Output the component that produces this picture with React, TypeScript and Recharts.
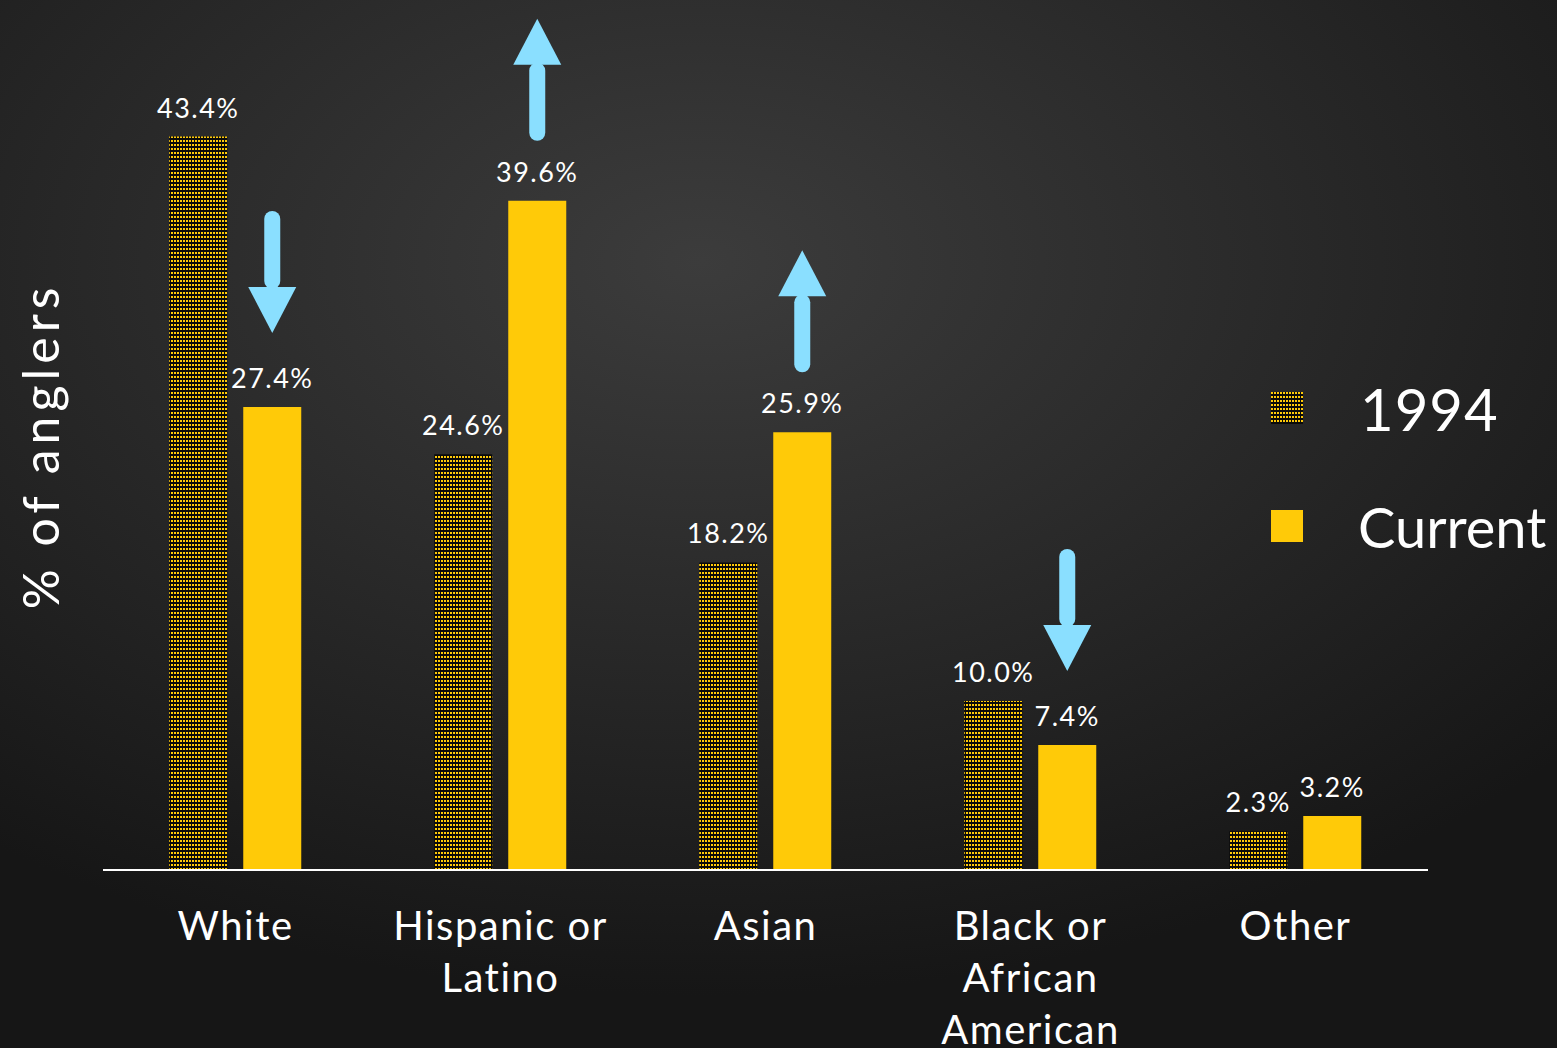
import React from 'react';
import { BarChart, Bar, XAxis, YAxis, LabelList } from 'recharts';

const categories = ['White', 'Hispanic or Latino', 'Asian', 'Black or African American', 'Other'];
const tickLines = [['White'], ['Hispanic or', 'Latino'], ['Asian'], ['Black or', 'African', 'American'], ['Other']];
const values1994 = [43.4, 24.6, 18.2, 10.0, 2.3];
const valuesCurrent = [27.4, 39.6, 25.9, 7.4, 3.2];
const trend = ['down', 'up', 'up', 'down', null];
const seriesNames = ['1994', 'Current'];

const YELLOW = '#FFCA08';
const BLUE = '#8ADFFF';
const FONT = 'Lato, "Open Sans", sans-serif';

const data = categories.map((c, i) => ({
  name: c,
  y1994: values1994[i],
  current: valuesCurrent[i],
}));

const labelStyle = { fontVariantLigatures: 'none' as const, letterSpacing: 1.5 };

const ValueLabel = (props: any) => {
  const { x, y, width, value } = props;
  return (
    <text x={x + width / 2} y={y - 19} fill="#fff" fontSize={27} fontFamily={FONT} textAnchor="middle" style={labelStyle}>
      {Number(value).toFixed(1)}%
    </text>
  );
};

// label on the current bars: value plus the trend arrow
const CurrentLabel = (props: any) => {
  const { x, y, width, value, index } = props;
  const cx = x + width / 2;
  const dir = trend[index];
  const len = 122;
  const head = 46;
  let arrow = null;
  if (dir === 'up') {
    const bottom = y - 60;
    const tip = bottom - len;
    arrow = (
      <g fill={BLUE}>
        <rect x={cx - 8} y={tip + head - 2} width={16} height={len - head + 2} rx={8} />
        <polygon points={`${cx},${tip} ${cx - 24},${tip + head} ${cx + 24},${tip + head}`} />
      </g>
    );
  } else if (dir === 'down') {
    const tip = y - 74;
    const top = tip - len;
    arrow = (
      <g fill={BLUE}>
        <rect x={cx - 8} y={top} width={16} height={len - head + 2} rx={8} />
        <polygon points={`${cx},${tip} ${cx - 24},${tip - head} ${cx + 24},${tip - head}`} />
      </g>
    );
  }
  return (
    <g>
      {arrow}
      <text x={cx} y={y - 19} fill="#fff" fontSize={27} fontFamily={FONT} textAnchor="middle" style={labelStyle}>
        {Number(value).toFixed(1)}%
      </text>
    </g>
  );
};

const CategoryTick = (props: any) => {
  const { x, y, payload } = props;
  const lines = tickLines[payload.index] || [payload.value];
  return (
    <text x={x} y={y} fill="#fff" fontSize={40} fontFamily={FONT} textAnchor="middle"
      style={{ fontVariantLigatures: 'none', letterSpacing: 1.5 }}>
      {lines.map((l: string, i: number) => (
        <tspan key={i} x={x} dy={i === 0 ? 62 : 52}>{l}</tspan>
      ))}
    </text>
  );
};

export default function App() {
  return (
    <div
      style={{
        position: 'absolute',
        left: 0,
        top: 0,
        width: 1557,
        height: 1048,
        overflow: 'hidden',
        background: 'radial-gradient(ellipse 75% 70% at 45% 25%, #3c3c3c 0%, #2b2b2b 45%, #161616 100%)',
      }}
    >
      <svg width={0} height={0} style={{ position: 'absolute' }}>
        <defs>
          <pattern id="dots" width={3} height={4} patternUnits="userSpaceOnUse">
            <rect width={3} height={4} fill="#0a0a0a" />
            <rect x={0} y={0} width={2} height={2} fill={YELLOW} />
          </pattern>
        </defs>
      </svg>
      <div
        style={{
          position: 'absolute',
          left: 40,
          top: 446,
          transform: 'translate(-50%, -50%) rotate(-90deg)',
          color: '#fff',
          fontFamily: FONT,
          fontSize: 50,
          letterSpacing: 5,
          whiteSpace: 'nowrap',
        }}
      >
        % of anglers
      </div>
      <BarChart
        width={1557}
        height={1048}
        data={data}
        margin={{ top: 25, right: 129, bottom: 0, left: 103 }}
        barCategoryGap="25%"
        barGap={16}
      >
        <XAxis
          dataKey="name"
          axisLine={{ stroke: '#fff', strokeWidth: 2 }}
          tickLine={false}
          tick={<CategoryTick />}
          interval={0}
          height={178}
        />
        <YAxis hide domain={[0, 50]} width={0} />
        <Bar dataKey="y1994" fill="url(#dots)" isAnimationActive={false}>
          <LabelList dataKey="y1994" content={<ValueLabel />} />
        </Bar>
        <Bar dataKey="current" fill={YELLOW} isAnimationActive={false}>
          <LabelList dataKey="current" content={<CurrentLabel />} />
        </Bar>
      </BarChart>
      <div style={{ position: 'absolute', left: 1271, top: 378, fontFamily: FONT, color: '#fff' }}>
        <div style={{ display: 'flex', alignItems: 'center', height: 60 }}>
          <svg width={32} height={32}><rect width={32} height={32} fill="url(#dots)" /></svg>
          <span style={{ marginLeft: 57, fontSize: 58, letterSpacing: 1 }}>{seriesNames[0]}</span>
        </div>
        <div style={{ display: 'flex', alignItems: 'center', height: 60, marginTop: 58 }}>
          <svg width={32} height={32}><rect width={32} height={32} fill={YELLOW} /></svg>
          <span style={{ marginLeft: 55, fontSize: 56 }}>{seriesNames[1]}</span>
        </div>
      </div>
    </div>
  );
}
